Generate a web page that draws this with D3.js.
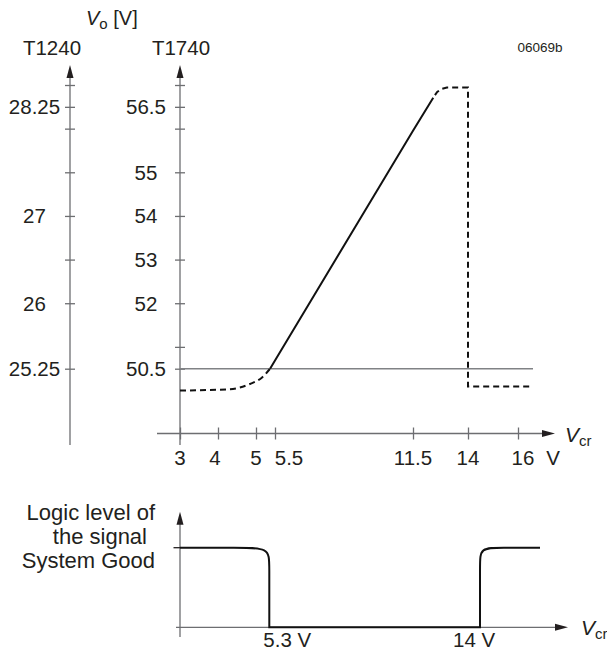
<!DOCTYPE html>
<html>
<head>
<meta charset="utf-8">
<script src="https://cdn.jsdelivr.net/npm/d3@7"></script>
<style>
  html, body { margin: 0; padding: 0; background: #fff; }
  svg { display: block; }
  text { font-family: "Liberation Sans", Arial, Helvetica, sans-serif; fill: #231f20; }
</style>
</head>
<body>
<svg id="chart" width="607" height="653"></svg>
<script>
// ---------- DATA ----------
const xTicks = [3, 4, 5, 5.5, 11.5, 14, 16];
const xTickLabels = ["3", "4", "5", "5.5", "11.5", "14", "16"];
const t1740Ticks = [50.5, 51, 52, 53, 54, 55, 56, 56.5, 57];
const t1740Labels = ["50.5", "52", "53", "54", "55", "56.5"];
const t1240Ticks = [25.25, 26, 26.5, 27, 27.5, 28, 28.25, 28.5];
const t1240Labels = ["25.25", "26", "27", "28.25"];
const refLevel = 50.5;
const refEnd = 16.6;

// Vo curve (T1740 scale)
const lowVcr  = [3.0, 4.3, 4.84, 5.16, 5.37];
const lowVo   = [50.0, 50.03, 50.15, 50.3, 50.5];
const rampVcr = [5.37, 5.5, 11.5, 12.42];
const rampVo  = [50.5, 50.69, 55.95, 56.71];
const highVcr = [12.42, 12.6, 12.8, 13.04, 14, 14, 16.6];
const highVo  = [56.71, 56.84, 56.91, 56.94, 56.94, 50.09, 50.09];

// Logic level of signal System Good
const logicVcr   = [3, 4.5, 5.3, 5.3, 5.3, 5.3, 5.3, 14, 14, 14, 14, 14, 14.7, 16];
const logicLevel = [1, 1, 1, 0.8, 0, 0, 0, 0, 0, 0, 0.8, 1, 1, 1];
const logicMarks = [5.3, 14];
const logicMarkLabels = ["5.3 V", "14 V"];

// ---------- LAYOUT ----------
const svg = d3.select("#chart");
const axisColor = "#6d6e71";
const ink = "#111";
const FS = "20.5px";

const x = d3.scaleLinear().domain(xTicks).range([180, 218, 256, 275, 413, 468, 518]);
const y = d3.scaleLinear().domain([50.5, 57]).range([368.7, 85]);
const yL = d3.scaleLinear().domain([25.25, 28.5]).range([368.7, 85]);

const rightAxisX = 180, leftAxisX = 70;
const axisTop = 65, axisBottom = 445;
const xAxisY = 433.5;
const xLabelShift = [0, -3, 0, 14, 0, 0, 5];

function arrowUp(g, cx, tip) {
  g.append("path").attr("d", `M${cx},${tip} L${cx - 3.5},${tip + 13} L${cx + 3.5},${tip + 13} Z`).attr("fill", "#231f20");
}
function arrowRight(g, tip, cy) {
  g.append("path").attr("d", `M${tip},${cy} L${tip - 13},${cy - 3.5} L${tip - 13},${cy + 3.5} Z`).attr("fill", "#231f20");
}

const gTop = svg.append("g");

// Y axes lines
[leftAxisX, rightAxisX].forEach(ax => {
  gTop.append("line").attr("x1", ax).attr("x2", ax).attr("y1", axisTop + 5).attr("y2", axisBottom)
    .attr("stroke", axisColor).attr("stroke-width", 1.3);
  arrowUp(gTop, ax, axisTop);
});

// Ticks via d3 axes
const rAxis = gTop.append("g").attr("transform", `translate(${rightAxisX},0)`)
  .call(d3.axisLeft(y).tickValues(t1740Ticks).tickFormat("").tickSizeOuter(0));
const lAxis = gTop.append("g").attr("transform", `translate(${leftAxisX},0)`)
  .call(d3.axisLeft(yL).tickValues(t1240Ticks).tickFormat("").tickSizeOuter(0));
[rAxis, lAxis].forEach(a => {
  a.select(".domain").remove();
  a.selectAll(".tick line").attr("x1", -5).attr("x2", 5).attr("stroke", axisColor).attr("stroke-width", 1.3);
});

function yLabels(g, labels, scale, cx) {
  labels.forEach(s => {
    g.append("text").attr("x", cx).attr("y", scale(+s) + 7.4).attr("text-anchor", "middle")
      .style("font-size", FS).text(s);
  });
}
yLabels(gTop, t1740Labels, y, 146);
yLabels(gTop, t1240Labels, yL, 34.5);

// Axis titles
const vo = gTop.append("text").attr("x", 86).attr("y", 25).style("font-size", "20px");
vo.append("tspan").style("font-style", "italic").text("V");
vo.append("tspan").attr("dy", 4).style("font-size", "15px").text("o");
vo.append("tspan").attr("dy", -4).text(" [V]");
gTop.append("text").attr("x", 52).attr("y", 55).attr("text-anchor", "middle").style("font-size", FS).text("T1240");
gTop.append("text").attr("x", 181).attr("y", 55).attr("text-anchor", "middle").style("font-size", FS).text("T1740");
gTop.append("text").attr("x", 540).attr("y", 52).attr("text-anchor", "middle").style("font-size", "13.5px").text("06069b");

// X axis
gTop.append("line").attr("x1", 157).attr("x2", 545).attr("y1", xAxisY).attr("y2", xAxisY)
  .attr("stroke", axisColor).attr("stroke-width", 1.3);
arrowRight(gTop, 555, xAxisY);
const xa = gTop.append("g").attr("transform", `translate(0,${xAxisY})`)
  .call(d3.axisBottom(x).tickValues(xTicks).tickFormat("").tickSizeOuter(0));
xa.select(".domain").remove();
xa.selectAll(".tick line").attr("y1", -6).attr("y2", 6).attr("stroke", axisColor).attr("stroke-width", 1.3);
xTicks.forEach((v, i) => {
  gTop.append("text").attr("x", x(v) + xLabelShift[i]).attr("y", 465)
    .attr("text-anchor", "middle").style("font-size", FS).text(xTickLabels[i]);
});
gTop.append("text").attr("x", 553).attr("y", 465).attr("text-anchor", "middle").style("font-size", FS).text("V");
const vcr = gTop.append("text").attr("x", 565).attr("y", 442).style("font-size", "21px");
vcr.append("tspan").style("font-style", "italic").text("V");
vcr.append("tspan").attr("dy", 4).style("font-size", "15px").text("cr");

// Reference line 50.5
gTop.append("line").attr("x1", x(3)).attr("x2", x(refEnd)).attr("y1", y(refLevel)).attr("y2", y(refLevel))
  .attr("stroke", "#808285").attr("stroke-width", 1.5);

// Curves
const lowLine = d3.line().x(d => x(d[0])).y(d => y(d[1])).curve(d3.curveMonotoneX);
gTop.append("path").attr("d", lowLine(d3.zip(lowVcr, lowVo)))
  .attr("fill", "none").attr("stroke", ink).attr("stroke-width", 2).attr("stroke-dasharray", "6,4");
const lin = d3.line().x(d => x(d[0])).y(d => y(d[1]));
gTop.append("path").attr("d", lin(d3.zip(rampVcr, rampVo)))
  .attr("fill", "none").attr("stroke", ink).attr("stroke-width", 2);
gTop.append("path").attr("d", lin(d3.zip(highVcr, highVo)))
  .attr("fill", "none").attr("stroke", ink).attr("stroke-width", 2).attr("stroke-dasharray", "6,4")
  .attr("stroke-dashoffset", -3);

// ---------- BOTTOM CHART ----------
const bot = svg.append("g");
const xb = d3.scaleLinear().domain([3, 5.3, 14, 16]).range([180, 269.3, 480, 540]);
const yb = d3.scaleLinear().domain([0, 1]).range([627.3, 547.7]);

bot.append("line").attr("x1", 180).attr("x2", 180).attr("y1", 520).attr("y2", 637)
  .attr("stroke", axisColor).attr("stroke-width", 1.3);
arrowUp(bot, 180, 511.7);
bot.append("line").attr("x1", 176).attr("x2", 558).attr("y1", yb(0)).attr("y2", yb(0))
  .attr("stroke", axisColor).attr("stroke-width", 1.3);
arrowRight(bot, 568, yb(0));
bot.append("line").attr("x1", 173.5).attr("x2", 180).attr("y1", yb(1)).attr("y2", yb(1))
  .attr("stroke", "#231f20").attr("stroke-width", 1.3);

const logicLine = d3.line().x(d => xb(d[0])).y(d => yb(d[1])).curve(d3.curveBasis);
bot.append("path").attr("d", logicLine(d3.zip(logicVcr, logicLevel)))
  .attr("fill", "none").attr("stroke", ink).attr("stroke-width", 2);

const markShift = [-6, -27];
logicMarks.forEach((v, i) => {
  bot.append("text").attr("x", xb(v) + markShift[i]).attr("y", 647).attr("text-anchor", "start")
    .style("font-size", FS).text(logicMarkLabels[i]);
});
const vcr2 = bot.append("text").attr("x", 581).attr("y", 635).style("font-size", "21px");
vcr2.append("tspan").style("font-style", "italic").text("V");
vcr2.append("tspan").attr("dy", 4).style("font-size", "15px").text("cr");

const logicText = ["Logic level of", "the signal", "System Good"];
const logicTextX = [155, 147, 155];
const logicTextY = [519.5, 543.5, 568];
logicText.forEach((t, i) => {
  bot.append("text").attr("x", logicTextX[i]).attr("y", logicTextY[i]).attr("text-anchor", "end")
    .style("font-size", "22px").text(t);
});
</script>
</body>
</html>
